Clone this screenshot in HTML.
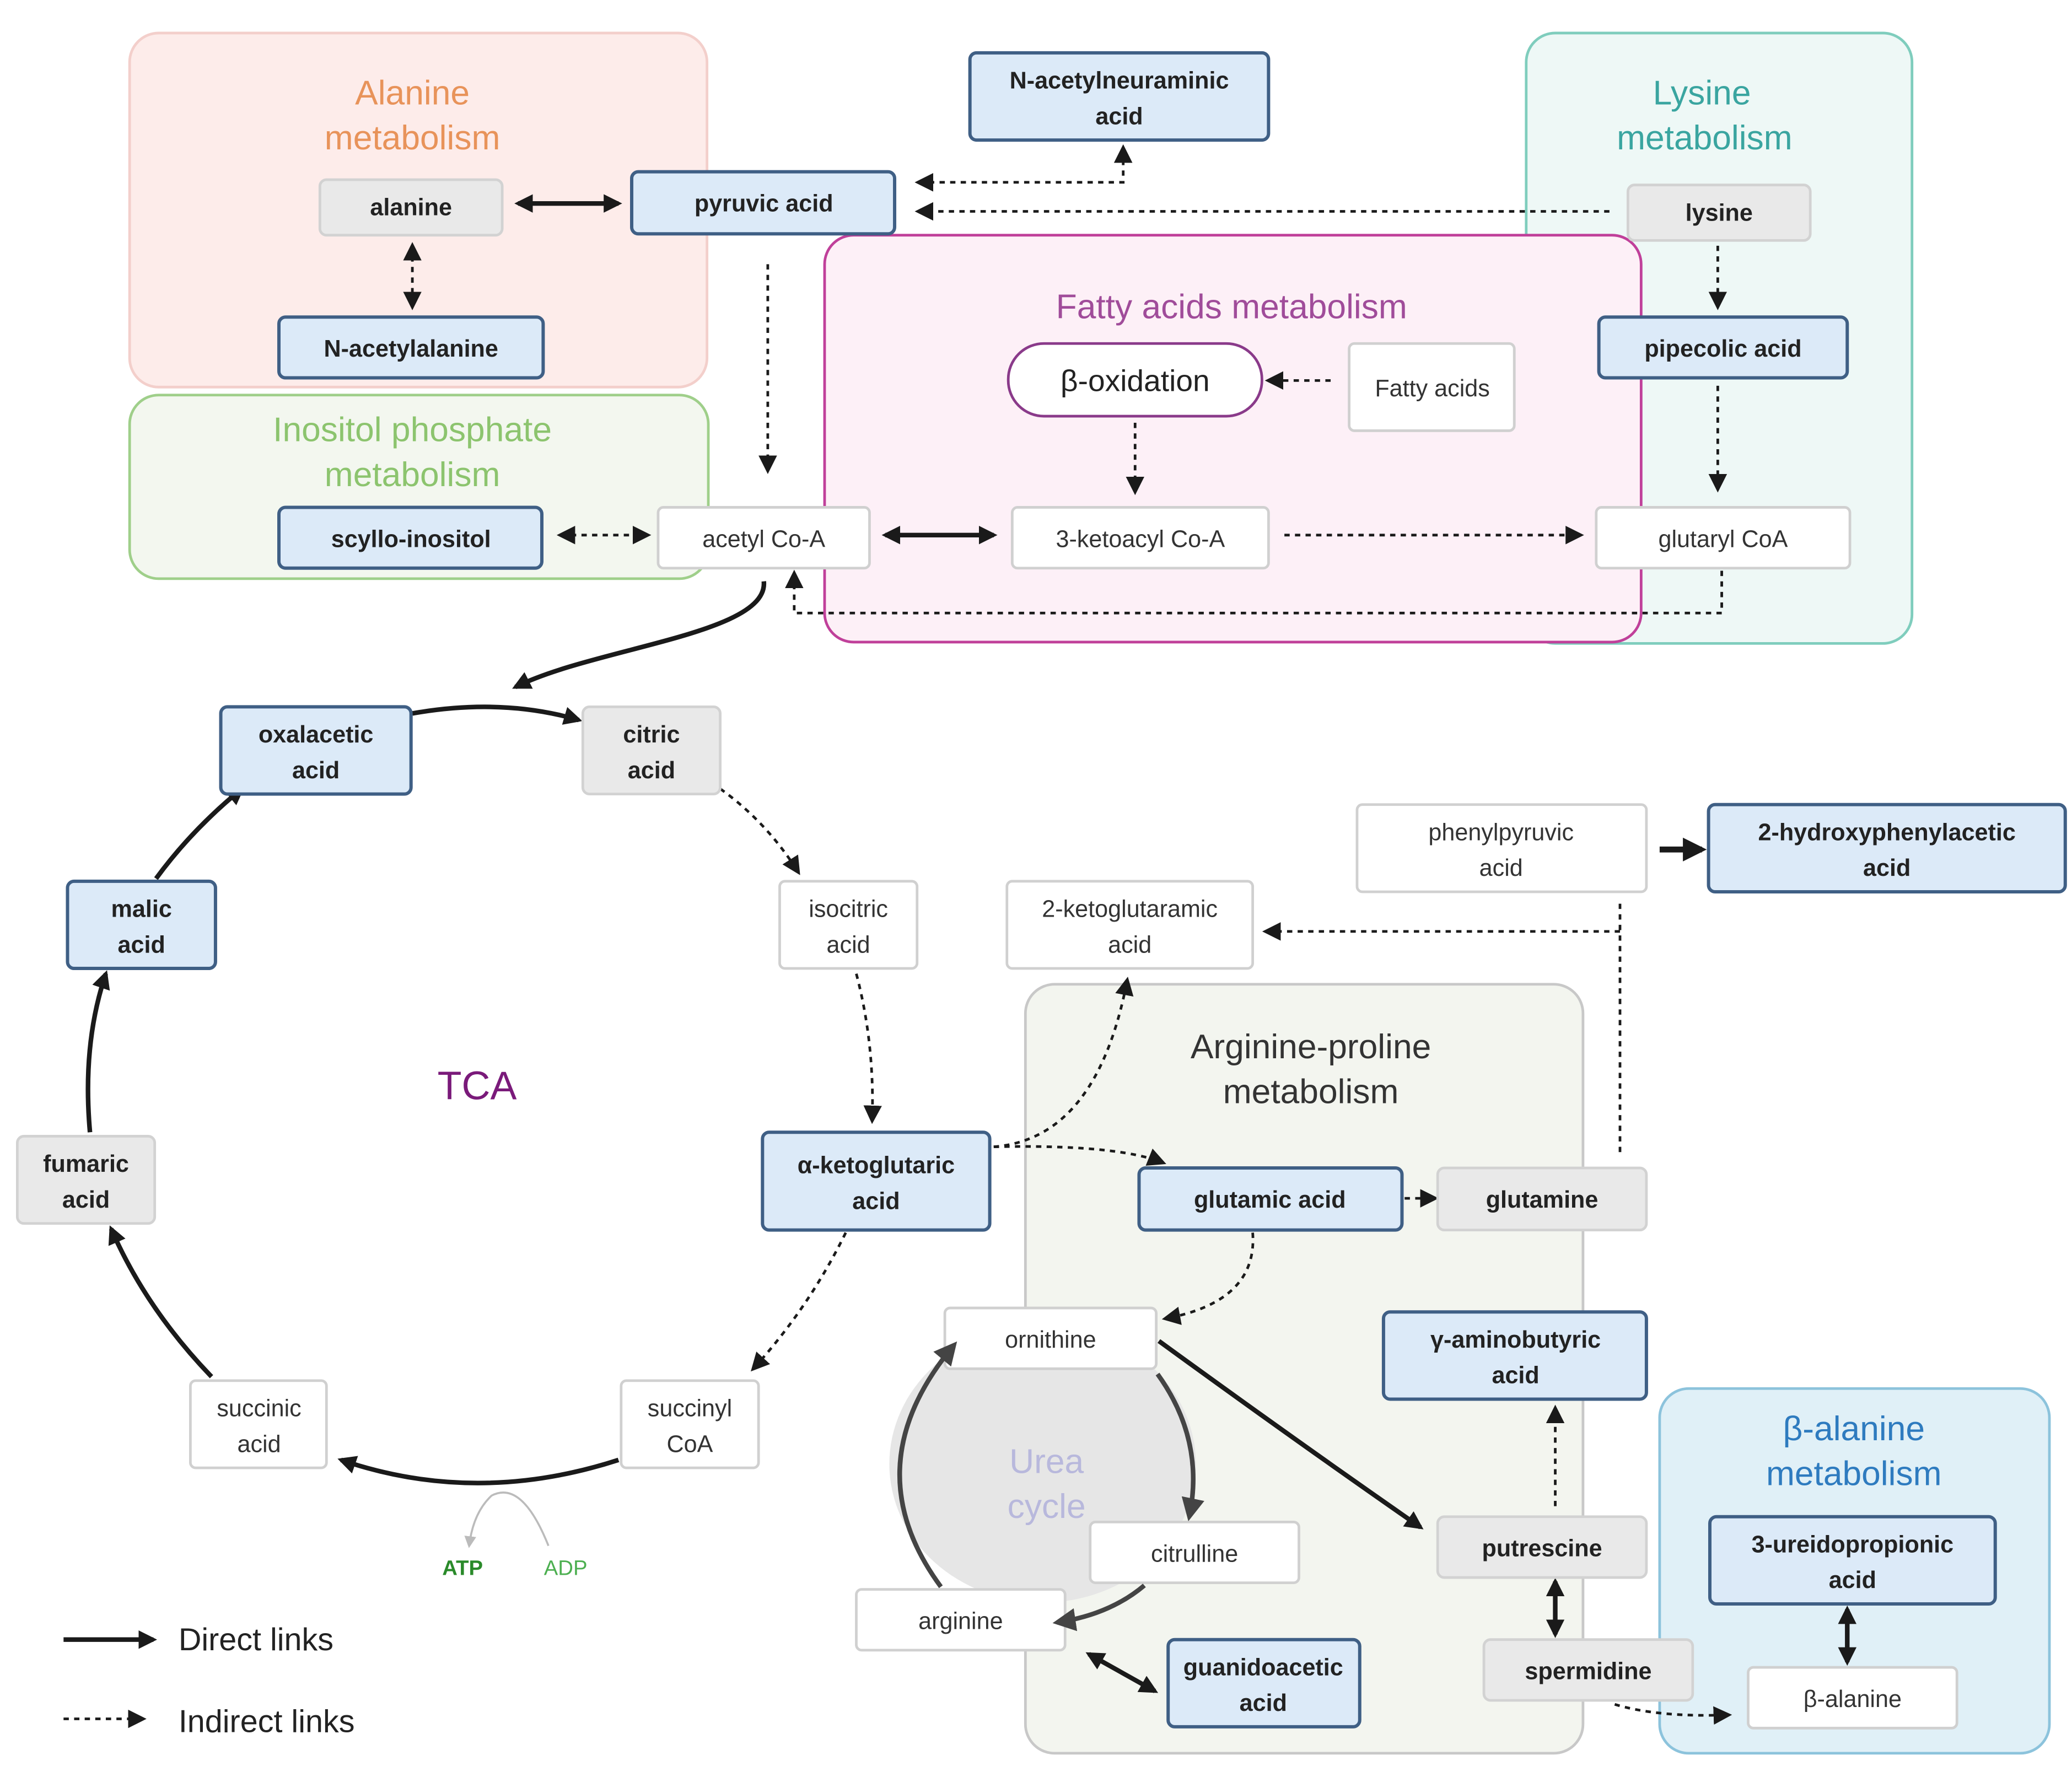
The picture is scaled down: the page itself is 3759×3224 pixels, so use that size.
<!DOCTYPE html>
<html><head><meta charset="utf-8">
<style>
html,body{margin:0;padding:0;background:#fff;}
svg{display:block;}
text{font-family:"Liberation Sans",sans-serif;}
.b rect{fill:#dceaf8;stroke:#3f5f85;stroke-width:2.5;}
.g rect{fill:#e9e9e9;stroke:#d2d2d2;stroke-width:2;}
.w rect{fill:#fff;stroke:#d0d0d0;stroke-width:2;}
.b text,.g text{font-weight:bold;fill:#222;font-size:18px;text-anchor:middle;}
.w text{fill:#333;font-size:18px;text-anchor:middle;}
.s{fill:none;stroke:#1a1a1a;stroke-width:3.5;}
.d{fill:none;stroke:#1a1a1a;stroke-width:2;stroke-dasharray:4 4;}
.t{font-size:26px;text-anchor:middle;}
</style></head><body>
<svg width="3759" height="3224" viewBox="0 0 1568 1345" xmlns="http://www.w3.org/2000/svg">
<defs>
<marker id="a" viewBox="0 0 10 10" refX="8" refY="5" markerWidth="4" markerHeight="4" orient="auto-start-reverse"><path d="M0,0 L10,5 L0,10 z" fill="#1a1a1a"/></marker>
<marker id="ad" viewBox="0 0 10 10" refX="8" refY="5" markerWidth="7" markerHeight="7" orient="auto-start-reverse"><path d="M0,0 L10,5 L0,10 z" fill="#1a1a1a"/></marker>
<marker id="ag" viewBox="0 0 10 10" refX="8" refY="5" markerWidth="6" markerHeight="6" orient="auto"><path d="M0,0 L10,5 L0,10 z" fill="#bbb"/></marker>
<marker id="au" viewBox="0 0 10 10" refX="8" refY="5" markerWidth="5" markerHeight="5" orient="auto"><path d="M0,0 L10,5 L0,10 z" fill="#444"/></marker>
</defs>

<rect x="98" y="25" width="437" height="268" rx="22" fill="#fdecea" stroke="#f3cfcb" stroke-width="2"/>
<text class="t" x="312" y="79" fill="#e8935a">Alanine</text>
<text class="t" x="312" y="113" fill="#e8935a">metabolism</text>
<rect x="98" y="299" width="438" height="139" rx="22" fill="#f3f7ef" stroke="#9fcf8a" stroke-width="2"/>
<text class="t" x="312" y="334" fill="#8cc46e">Inositol phosphate</text>
<text class="t" x="312" y="368" fill="#8cc46e">metabolism</text>
<rect x="1155" y="25" width="292" height="462" rx="22" fill="#eef8f6" stroke="#7fcdbd" stroke-width="2"/>
<text class="t" x="1288" y="79" fill="#3aa5a0">Lysine</text>
<text class="t" x="1290" y="113" fill="#3aa5a0">metabolism</text>
<rect x="624" y="178" width="618" height="308" rx="22" fill="#fdf0f7" stroke="#c0409a" stroke-width="2"/>
<text class="t" x="932" y="241" fill="#a04c9a">Fatty acids metabolism</text>
<rect x="776" y="745" width="422" height="582" rx="22" fill="#f3f5ef" stroke="#c8c8c8" stroke-width="2"/>
<text class="t" x="992" y="801" fill="#333">Arginine-proline</text>
<text class="t" x="992" y="835" fill="#333">metabolism</text>
<rect x="1256" y="1051" width="295" height="276" rx="22" fill="#e0f0f7" stroke="#8cc3dc" stroke-width="2"/>
<text class="t" x="1403" y="1090" fill="#2e7bbf">β-alanine</text>
<text class="t" x="1403" y="1124" fill="#2e7bbf">metabolism</text>

<ellipse cx="789" cy="1108" rx="116" ry="105" fill="#e6e6e6"/>
<text class="t" x="792" y="1115" fill="#b8b8dc">Urea</text>
<text class="t" x="792" y="1149" fill="#b8b8dc">cycle</text>

<text x="361" y="832" font-size="30" text-anchor="middle" fill="#7a1a7a">TCA</text>

<path class="s" d="M392,154 L468,154" marker-start="url(#a)" marker-end="url(#a)"/>
<path class="d" d="M312,186 L312,232" marker-start="url(#ad)" marker-end="url(#ad)"/>
<path class="d" d="M695,138 L850,138 L850,112" marker-start="url(#ad)" marker-end="url(#ad)"/>
<path class="d" d="M1218,160 L695,160" marker-end="url(#ad)"/>
<path class="d" d="M581,200 L581,356" marker-end="url(#ad)"/>
<path class="d" d="M1300,186 L1300,232" marker-end="url(#ad)"/>
<path class="d" d="M1300,292 L1300,370" marker-end="url(#ad)"/>
<path class="d" d="M1007,288 L960,288" marker-end="url(#ad)"/>
<path class="d" d="M859,320 L859,372" marker-end="url(#ad)"/>
<path class="d" d="M424,405 L490,405" marker-start="url(#ad)" marker-end="url(#ad)"/>
<path class="s" d="M670,405 L752,405" marker-start="url(#a)" marker-end="url(#a)"/>
<path class="d" d="M972,405 L1196,405" marker-end="url(#ad)"/>
<path class="d" d="M1303,432 L1303,464 L601,464 L601,434" marker-end="url(#ad)"/>
<path class="s" d="M578,440 C582,480 450,490 390,520" marker-end="url(#a)"/>
<path class="s" d="M312,540 Q380,528 438,545" marker-end="url(#a)"/>
<path class="d" d="M545,597 Q580,622 604,660" marker-end="url(#ad)"/>
<path class="d" d="M648,737 Q662,790 660,848" marker-end="url(#ad)"/>
<path class="d" d="M640,933 Q612,990 570,1036" marker-end="url(#ad)"/>
<path class="s" d="M468,1105 Q360,1140 258,1105" marker-end="url(#a)"/>
<path class="s" d="M160,1042 Q110,990 84,930" marker-end="url(#a)"/>
<path class="s" d="M68,857 Q62,790 80,737" marker-end="url(#a)"/>
<path class="s" d="M118,665 Q145,628 183,597" marker-end="url(#a)"/>
<path d="M415,1170 Q395,1120 372,1132 Q358,1145 355,1170" fill="none" stroke="#bbb" stroke-width="1.5" marker-end="url(#ag)"/>
<path class="d" d="M752,868 Q830,862 853,742" marker-end="url(#ad)"/>
<path class="d" d="M752,868 Q845,866 880,880" marker-end="url(#ad)"/>
<path class="d" d="M1063,907 L1086,907" marker-end="url(#ad)"/>
<path class="d" d="M948,933 Q952,985 882,998" marker-end="url(#ad)"/>
<path class="s" d="M1256,643 L1288,643" marker-end="url(#a)" style="stroke-width:4.5"/>
<path class="d" d="M1226,872 L1226,680 M1226,705 L958,705" marker-end="url(#ad)"/>
<path class="s" d="M877,1015 Q980,1090 1075,1156" marker-end="url(#a)"/>
<path class="s" d="M824,1252 L874,1280" marker-start="url(#a)" marker-end="url(#a)"/>
<path class="d" d="M1177,1140 L1177,1066" marker-end="url(#ad)"/>
<path class="s" d="M1177,1197 L1177,1237" marker-start="url(#a)" marker-end="url(#a)"/>
<path class="s" d="M1398,1218 L1398,1258" marker-start="url(#a)" marker-end="url(#a)"/>
<path class="d" d="M1222,1290 Q1255,1300 1308,1298" marker-end="url(#ad)"/>

<g class="b"><rect x="734" y="40" width="226" height="66" rx="5"/><text x="847" y="67">N-acetylneuraminic</text><text x="847" y="94">acid</text></g>
<g class="g"><rect x="242" y="136" width="138" height="42" rx="5"/><text x="311" y="163">alanine</text></g>
<g class="b"><rect x="478" y="130" width="199" height="47" rx="5"/><text x="578" y="160">pyruvic acid</text></g>
<g class="g"><rect x="1232" y="140" width="138" height="42" rx="5"/><text x="1301" y="167">lysine</text></g>
<g class="b"><rect x="211" y="240" width="200" height="46" rx="5"/><text x="311" y="270">N-acetylalanine</text></g>
<g class="b"><rect x="1210" y="240" width="188" height="46" rx="5"/><text x="1304" y="270">pipecolic acid</text></g>
<rect x="763" y="260" width="192" height="55" rx="27" fill="#fff" stroke="#8a3a8a" stroke-width="2"/>
<text x="859" y="296" font-size="23" text-anchor="middle" fill="#222">β-oxidation</text>
<g class="w"><rect x="1021" y="260" width="125" height="66" rx="4"/><text x="1084" y="300">Fatty acids</text></g>
<g class="b"><rect x="211" y="384" width="199" height="46" rx="5"/><text x="311" y="414">scyllo-inositol</text></g>
<g class="w"><rect x="498" y="384" width="160" height="46" rx="4"/><text x="578" y="414">acetyl Co-A</text></g>
<g class="w"><rect x="766" y="384" width="194" height="46" rx="4"/><text x="863" y="414">3-ketoacyl Co-A</text></g>
<g class="w"><rect x="1208" y="384" width="192" height="46" rx="4"/><text x="1304" y="414">glutaryl CoA</text></g>
<g class="b"><rect x="167" y="535" width="144" height="66" rx="5"/><text x="239" y="562">oxalacetic</text><text x="239" y="589">acid</text></g>
<g class="g"><rect x="441" y="535" width="104" height="66" rx="5"/><text x="493" y="562">citric</text><text x="493" y="589">acid</text></g>
<g class="w"><rect x="1027" y="609" width="219" height="66" rx="4"/><text x="1136" y="636">phenylpyruvic</text><text x="1136" y="663">acid</text></g>
<g class="b"><rect x="1293" y="609" width="270" height="66" rx="5"/><text x="1428" y="636">2-hydroxyphenylacetic</text><text x="1428" y="663">acid</text></g>
<g class="b"><rect x="51" y="667" width="112" height="66" rx="5"/><text x="107" y="694">malic</text><text x="107" y="721">acid</text></g>
<g class="w"><rect x="590" y="667" width="104" height="66" rx="4"/><text x="642" y="694">isocitric</text><text x="642" y="721">acid</text></g>
<g class="w"><rect x="762" y="667" width="186" height="66" rx="4"/><text x="855" y="694">2-ketoglutaramic</text><text x="855" y="721">acid</text></g>
<g class="g"><rect x="13" y="860" width="104" height="66" rx="5"/><text x="65" y="887">fumaric</text><text x="65" y="914">acid</text></g>
<g class="b"><rect x="577" y="857" width="172" height="74" rx="5"/><text x="663" y="888">α-ketoglutaric</text><text x="663" y="915">acid</text></g>
<g class="b"><rect x="862" y="884" width="199" height="47" rx="5"/><text x="961" y="914">glutamic acid</text></g>
<g class="g"><rect x="1088" y="884" width="158" height="47" rx="5"/><text x="1167" y="914">glutamine</text></g>
<g class="w"><rect x="715" y="990" width="160" height="46" rx="4"/><text x="795" y="1020">ornithine</text></g>
<g class="b"><rect x="1047" y="993" width="199" height="66" rx="5"/><text x="1147" y="1020">γ-aminobutyric</text><text x="1147" y="1047">acid</text></g>
<g class="w"><rect x="144" y="1045" width="103" height="66" rx="4"/><text x="196" y="1072">succinic</text><text x="196" y="1099">acid</text></g>
<g class="w"><rect x="470" y="1045" width="104" height="66" rx="4"/><text x="522" y="1072">succinyl</text><text x="522" y="1099">CoA</text></g>
<g class="g"><rect x="1088" y="1148" width="158" height="46" rx="5"/><text x="1167" y="1178">putrescine</text></g>
<g class="w"><rect x="825" y="1152" width="158" height="46" rx="4"/><text x="904" y="1182">citrulline</text></g>
<g class="b"><rect x="1294" y="1148" width="216" height="66" rx="5"/><text x="1402" y="1175">3-ureidopropionic</text><text x="1402" y="1202">acid</text></g>
<g class="w"><rect x="648" y="1203" width="158" height="46" rx="4"/><text x="727" y="1233">arginine</text></g>
<g class="b"><rect x="884" y="1241" width="145" height="66" rx="5"/><text x="956" y="1268">guanidoacetic</text><text x="956" y="1295">acid</text></g>
<g class="g"><rect x="1123" y="1241" width="158" height="46" rx="5"/><text x="1202" y="1271">spermidine</text></g>
<g class="w"><rect x="1323" y="1262" width="158" height="46" rx="4"/><text x="1402" y="1292">β-alanine</text></g>

<!-- urea cycle arrows on top -->
<path d="M876,1040 Q912,1090 900,1148" fill="none" stroke="#444" stroke-width="3.5" marker-end="url(#au)"/>
<path d="M866,1200 Q840,1222 800,1228" fill="none" stroke="#444" stroke-width="3.5" marker-end="url(#au)"/>
<path d="M712,1201 Q645,1110 722,1018" fill="none" stroke="#444" stroke-width="3.5" marker-end="url(#au)"/>

<text x="350" y="1192" font-size="16" font-weight="bold" fill="#2a8a2a" text-anchor="middle">ATP</text>
<text x="428" y="1192" font-size="16" fill="#4caf50" text-anchor="middle">ADP</text>

<path class="s" d="M48,1241 L116,1241" marker-end="url(#a)"/>
<text x="135" y="1249" font-size="24" fill="#222">Direct links</text>
<path class="d" d="M48,1301 L108,1301" marker-end="url(#ad)"/>
<text x="135" y="1311" font-size="24" fill="#222">Indirect links</text>
</svg>
</body></html>
